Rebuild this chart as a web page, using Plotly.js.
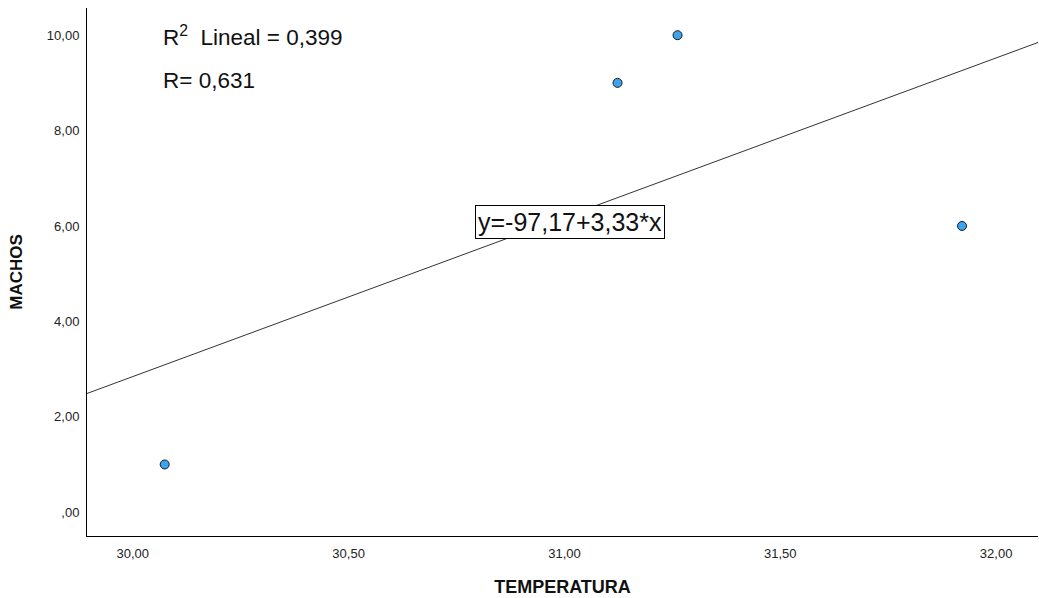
<!DOCTYPE html>
<html>
<head>
<meta charset="utf-8">
<script src="https://cdn.plot.ly/plotly-3.0.1.min.js"></script>
<style>html,body{margin:0;padding:0;background:#fff;}#chart{width:1039px;height:598px;}</style>
</head>
<body>
<div id="chart"></div>
<script>
const temperatura = [30.074, 31.123, 31.262, 31.921];
const machos = [1, 9, 10, 6];
const xTickVals = [30, 30.5, 31, 31.5, 32];
const xTickText = ["30,00", "30,50", "31,00", "31,50", "32,00"];
const yTickVals = [0, 2, 4, 6, 8, 10];
const yTickText = [",00", "2,00", "4,00", "6,00", "8,00", "10,00"];
const xRange = [29.894, 32.097];
const yRange = [-0.5, 10.57];

// least squares fit from the data
const n = temperatura.length;
const mx = temperatura.reduce((a, b) => a + b, 0) / n;
const my = machos.reduce((a, b) => a + b, 0) / n;
let sxy = 0, sxx = 0;
for (let i = 0; i < n; i++) { sxy += (temperatura[i] - mx) * (machos[i] - my); sxx += (temperatura[i] - mx) ** 2; }
const slope = sxy / sxx;
const intercept = my - slope * mx;
const lineX = xRange.slice();
const lineY = lineX.map(x => intercept + slope * x);

const font = "Liberation Sans, Arial, sans-serif";
const traces = [
  {x: lineX, y: lineY, mode: "lines", line: {color: "#333333", width: 1}, hoverinfo: "skip", showlegend: false},
  {x: temperatura, y: machos, mode: "markers", showlegend: false,
   marker: {size: 9, color: "#3ba3ef", line: {color: "#1a1a1a", width: 1}}}
];
const layout = {
  width: 1039, height: 598,
  margin: {l: 87, r: 1, t: 8, b: 62},
  paper_bgcolor: "#fff", plot_bgcolor: "#fff",
  font: {family: font, color: "#222"},
  xaxis: {range: xRange, tickvals: xTickVals, ticktext: xTickText, showgrid: false, zeroline: false,
          showline: true, linecolor: "#000", linewidth: 1, ticks: "outside", ticklen: 5, tickcolor: "rgba(0,0,0,0)",
          tickfont: {size: 13, family: font, color: "#222"},
          title: {text: "<b>TEMPERATURA</b>", font: {size: 18, family: font, color: "#111"}, standoff: 20}},
  yaxis: {range: yRange, tickvals: yTickVals, ticktext: yTickText, showgrid: false, zeroline: false,
          showline: true, linecolor: "#000", linewidth: 1, ticks: "outside", ticklen: 4, tickcolor: "rgba(0,0,0,0)",
          tickfont: {size: 13, family: font, color: "#222"},
          title: {text: "<b>MACHOS</b>", font: {size: 17, family: font, color: "#111"}, standoff: 19}},
  annotations: [
    {xref: "paper", yref: "paper", x: 0.078, y: 0.947, xanchor: "left", yanchor: "middle", showarrow: false,
     text: "R<sup>2</sup>  Lineal = 0,399", font: {size: 22.5, family: font, color: "#111"}},
    {xref: "paper", yref: "paper", x: 0.078, y: 0.862, xanchor: "left", yanchor: "middle", showarrow: false,
     text: "R= 0,631", font: {size: 22.5, family: font, color: "#111"}},
    {xref: "paper", yref: "paper", x: 0.508, y: 0.595, xanchor: "center", yanchor: "middle", showarrow: false,
     text: "y=-97,17+3,33*x", font: {size: 25, family: font, color: "#111"},
     bgcolor: "#fff", bordercolor: "#000", borderwidth: 1, borderpad: 2}
  ]
};
Plotly.newPlot("chart", traces, layout, {displayModeBar: false, staticPlot: true});
</script>
</body>
</html>
